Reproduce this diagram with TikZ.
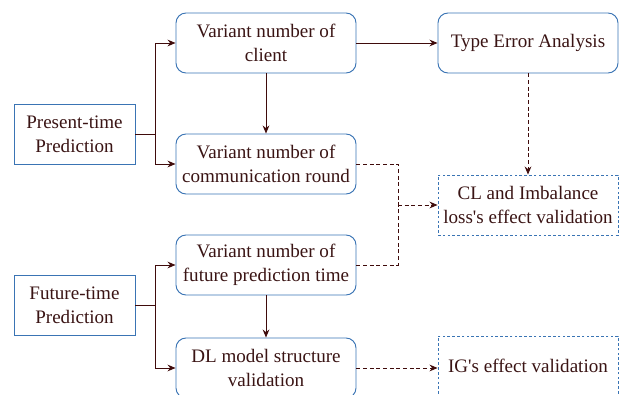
\documentclass[tikz,border=0pt]{standalone}
\usepackage{fontspec}
\setmainfont{Liberation Serif}
\usetikzlibrary{arrows.meta,calc,positioning}
\definecolor{txtbrown}{HTML}{3A1414}
\definecolor{linebrown}{HTML}{3F0B0B}
\definecolor{boxblue}{HTML}{3A74B4}

\begin{document}
\begin{tikzpicture}[x=0.75pt,y=-0.75pt,
  font=\fontsize{14.3}{18}\selectfont, text=txtbrown,
  line width=0.7pt]
    \tikzstyle{sidebox}=[draw=boxblue, minimum width=90.75pt, minimum height=45pt, align=center, inner sep=2pt]
    \tikzstyle{roundbox}=[draw=boxblue, rounded corners=7.5pt, minimum width=135pt, minimum height=45pt, align=center, inner sep=2pt]
    \tikzstyle{dashbox}=[roundbox, rounded corners=0pt, dash pattern=on 2pt off 1.6pt]
    \tikzstyle{link}=[draw=linebrown]
    \tikzstyle{arrow}=[link, -{Stealth[length=6pt,width=5pt]}]
    \tikzstyle{dlink}=[link, line width=0.6pt, dash pattern=on 3pt off 2pt]
    \tikzstyle{darrow}=[dlink, -{Stealth[length=6pt,width=5pt]}]

    \useasboundingbox (0,0) rectangle (622,395);

    % left column
    \node[sidebox]  (present) at (74.5,134) {Present-time\\Prediction};
    \node[sidebox]  (future)  at (74.5,305) {Future-time\\Prediction};

    % middle column
    \node[roundbox] (client)  at (266,43)  {Variant number of\\client};
    \node[roundbox] (comm)    at (266,164) {Variant number of\\communication round};
    \node[roundbox] (horizon) at (266,265) {Variant number of\\future prediction time};
    \node[roundbox] (dlmodel) at (266,368) {DL model structure\\validation};

    % right column
    \node[roundbox] (typeerr) at (528,43)  {Type Error Analysis};
    \node[dashbox]  (clloss)  at (528,205) {CL and Imbalance\\loss\textquotesingle s effect validation};
    \node[dashbox]  (igeff)   at (528,366) {IG\textquotesingle s effect validation};

    % forks
    \coordinate (pfork) at ($(present.east)+(20,0)$);
    \coordinate (ffork) at ($(future.east)+(20,0)$);
    \draw[link] (present.east) -- (pfork);
    \draw[arrow] (pfork) |- (client.west);
    \draw[arrow] (pfork) |- (comm.west);
    \draw[link] (future.east) -- (ffork);
    \draw[arrow] (ffork) |- (horizon.west);
    \draw[arrow] (ffork) |- (dlmodel.west);

    \draw[arrow] (client) -- (comm);
    \draw[arrow] (horizon) -- (dlmodel);
    \draw[arrow] (client) -- (typeerr);

    % dashed links
    \coordinate (merge) at (398,205);
    \draw[darrow] (typeerr) -- (clloss);
    \draw[dlink] (comm.east) -| (merge);
    \draw[dlink] (horizon.east) -| (merge);
    \draw[darrow] (merge) -- (clloss.west);
    \draw[darrow] (dlmodel.east) -- (dlmodel.east -| igeff.west);

\end{tikzpicture}
\end{document}
